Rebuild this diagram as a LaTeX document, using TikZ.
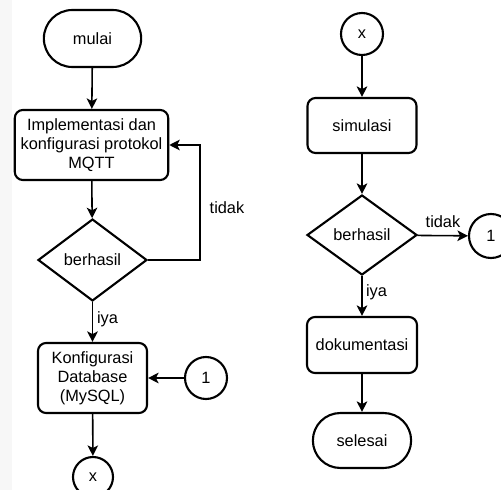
\documentclass[tikz,border=0pt]{standalone}
\usepackage{fontspec}
\setmainfont{Liberation Sans}
\usetikzlibrary{shapes.geometric,shapes.misc,arrows.meta}
\begin{document}
\begin{tikzpicture}[x=0.02cm,y=-0.02cm,font=\fontsize{9.3}{10.8}\selectfont,
    terminal/.style={draw,line width=1.2pt,rounded rectangle,minimum width=2.18cm,minimum height=1.14cm},
    proses/.style={draw,line width=1.2pt,rounded corners=0.16cm,align=center,minimum width=2.18cm,minimum height=1.4cm},
    cabang/.style={draw,line width=1.2pt,diamond,inner sep=0pt,minimum width=2.18cm,minimum height=1.64cm},
    penghubung/.style={draw,line width=1.2pt,circle,inner sep=0pt,minimum size=0.84cm},
    panah/.style={line width=0.9pt,-{Stealth[length=6pt,width=6pt,inset=1.5pt]}}]
    \useasboundingbox (0,0) rectangle (501,490);
    \fill[black!3] (0,0) rectangle (12,490);
    \node[terminal] (mulai) at (92.5,38.5) {mulai};
    \node[proses,minimum width=2.98cm] (mqtt) at (91.5,145) {Implementasi dan\\konfigurasi protokol\\MQTT};
    \node[cabang] (cekA) at (92.5,260) {berhasil};
    \node[proses] (db) at (92.5,378) {Konfigurasi\\Database\\(MySQL)};
    \node[penghubung] (satuA) at (206,378) {1};
    \node[penghubung,minimum size=0.8cm] (xA) at (93,477) {x};
    \coordinate (balik) at (200,145);
    \node (tidakA) at (227,208) {tidak};
    \node[anchor=west,inner sep=1pt] (iyaA) at (95,319) {iya};
    \node[penghubung] (xB) at (362,34) {x};
    \node[proses,minimum height=1.1cm] (sim) at (362,125.5) {simulasi};
    \node[cabang,minimum width=2.2cm,minimum height=1.6cm] (cekB) at (362,235) {berhasil};
    \node[penghubung,minimum size=0.88cm] (satuB) at (491,236) {1};
    \node[proses,minimum width=2.2cm,minimum height=1.12cm] (dok) at (362,345) {dokumentasi};
    \node[terminal,minimum width=2.2cm,minimum height=1.1cm] (selesai) at (362,440.5) {selesai};
    \node (tidakB) at (443,222) {tidak};
    \node[anchor=west,inner sep=1pt] (iyaB) at (364,292) {iya};
    \draw[panah] (mulai) -- (mqtt);
    \draw[panah] (mqtt) -- (cekA);
    \draw[panah] (cekA.east) -| (balik) -- (mqtt.east);
    \draw[panah] (cekA) -- (db);
    \draw[panah] (satuA) -- (db);
    \draw[panah] (db) -- (xA);
    \draw[panah] (xB) -- (sim);
    \draw[panah] (sim) -- (cekB);
    \draw[panah] (cekB) -- (satuB);
    \draw[panah] (cekB) -- (dok);
    \draw[panah] (dok) -- (selesai);
\end{tikzpicture}
\end{document}
